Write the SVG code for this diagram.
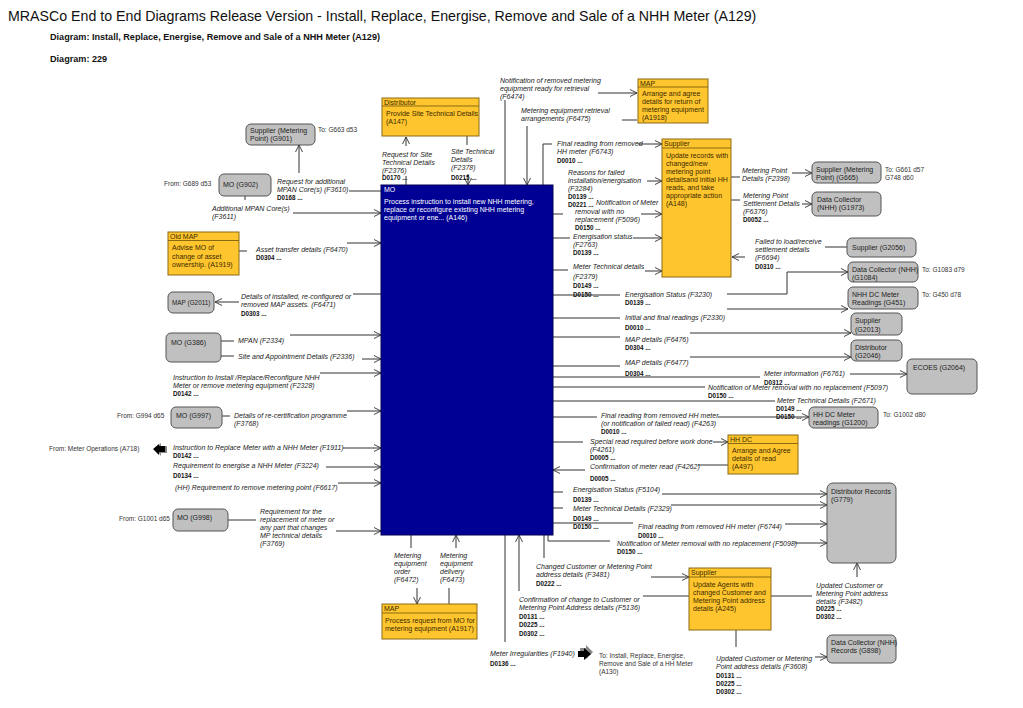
<svg xmlns="http://www.w3.org/2000/svg" width="1023" height="708" viewBox="0 0 1023 708">
<style>
text{font-family:"Liberation Sans",Arial,sans-serif;}
.title{font-size:14.2px;fill:#111;}
.sub{font-size:9.1px;font-weight:bold;fill:#111;}
.lbl{font-size:7px;font-style:italic;fill:#222;}
.code{font-size:6.3px;font-weight:bold;fill:#111;}
.note{font-size:6.5px;fill:#333;}
.nt{font-size:7px;fill:#222;}
.act rect{fill:#FFC52E;stroke:#8a6a10;stroke-width:1;}
.act line{stroke:#8a6a10;stroke-width:1;}
.act text{font-size:7px;fill:#3a2a00;}
.ext rect{fill:#C0C0C0;stroke:#555;stroke-width:1;}
.mo rect{fill:#000094;stroke:#000050;}
.mo text{font-size:7px;fill:#fff;}
#connectors path{fill:none;stroke:#333;stroke-width:1;}
</style>
<defs>
<marker id="arr" viewBox="0 0 10 10" refX="10" refY="5" markerWidth="7" markerHeight="8" markerUnits="userSpaceOnUse" orient="auto">
<path d="M0,0 L10,5 L0,10" fill="none" stroke="#333" stroke-width="1.3"/>
</marker>
</defs>
<rect width="1023" height="708" fill="#fff"/>
<text class="title" x="8" y="21">MRASCo End to End Diagrams Release Version - Install, Replace, Energise, Remove and Sale of a NHH Meter (A129)</text>
<text class="sub" x="50" y="40">Diagram: Install, Replace, Energise, Remove and Sale of a NHH Meter (A129)</text>
<text class="sub" x="50" y="62">Diagram: 229</text>

<g id="connectors">
<path d="M381,191 H349"/>
<path d="M299,173 V145" marker-end="url(#arr)"/>
<path d="M245,196 V200"/>
<path d="M293,213 H381" marker-end="url(#arr)"/>
<path d="M239,251 H247"/>
<path d="M347,243 H381" marker-end="url(#arr)"/>
<path d="M381,294 H353"/>
<path d="M239,302 H215" marker-end="url(#arr)"/>
<path d="M221,341 H234"/>
<path d="M290,335 H381" marker-end="url(#arr)"/>
<path d="M221,356 H234"/>
<path d="M362,359 H381" marker-end="url(#arr)"/>
<path d="M320,373 H381" marker-end="url(#arr)"/>
<path d="M222,416 H230"/>
<path d="M347,411 H381" marker-end="url(#arr)"/>
<path d="M343,448 H381" marker-end="url(#arr)"/>
<path d="M326,467 H381" marker-end="url(#arr)"/>
<path d="M338,483 H381" marker-end="url(#arr)"/>
<path d="M228,520 H256"/>
<path d="M336,531 H381" marker-end="url(#arr)"/>
<path d="M406,185 V176"/>
<path d="M406,146 V137" marker-end="url(#arr)"/>
<path d="M467,136 V145"/>
<path d="M468,174 V185" marker-end="url(#arr)"/>
<path d="M505,185 V100"/>
<path d="M598,93 H637" marker-end="url(#arr)"/>
<path d="M637,120 H622"/>
<path d="M527,126 V185" marker-end="url(#arr)"/>
<path d="M543,185 V144 H552"/>
<path d="M638,144 H662" marker-end="url(#arr)"/>
<path d="M647,181 H662" marker-end="url(#arr)"/>
<path d="M553,214 H563"/>
<path d="M641,214 H662" marker-end="url(#arr)"/>
<path d="M553,238 H570"/>
<path d="M633,238 H662" marker-end="url(#arr)"/>
<path d="M553,270 H568"/>
<path d="M645,271 H662" marker-end="url(#arr)"/>
<path d="M731,177 H740"/>
<path d="M792,173 H812" marker-end="url(#arr)"/>
<path d="M731,200 H740"/>
<path d="M802,204 H812" marker-end="url(#arr)"/>
<path d="M847,247 H825"/>
<path d="M745,257 H732" marker-end="url(#arr)"/>
<path d="M553,295 H620"/>
<path d="M727,294 H787 V272 H848" marker-end="url(#arr)"/>
<path d="M553,318 H620"/>
<path d="M727,309 H848" marker-end="url(#arr)"/>
<path d="M553,337 H620"/>
<path d="M690,333 H851" marker-end="url(#arr)"/>
<path d="M553,366 H620"/>
<path d="M690,357 H851" marker-end="url(#arr)"/>
<path d="M553,377 H760"/>
<path d="M850,374 H907" marker-end="url(#arr)"/>
<path d="M553,387 H705"/>
<path d="M553,401 H775"/>
<path d="M553,417 H597"/>
<path d="M718,417 H809" marker-end="url(#arr)"/>
<path d="M553,442 H583"/>
<path d="M713,442 H728" marker-end="url(#arr)"/>
<path d="M728,465 H698"/>
<path d="M585,470 H553" marker-end="url(#arr)"/>
<path d="M553,492 H563"/>
<path d="M662,494 H827" marker-end="url(#arr)"/>
<path d="M553,508 H563"/>
<path d="M671,505 H827" marker-end="url(#arr)"/>
<path d="M553,523 H633"/>
<path d="M785,524 H827" marker-end="url(#arr)"/>
<path d="M548,535 V541 H610"/>
<path d="M795,543 H827" marker-end="url(#arr)"/>
<path d="M544,535 V558"/>
<path d="M651,577 H689" marker-end="url(#arr)"/>
<path d="M689,596 H643"/>
<path d="M519,591 V535" marker-end="url(#arr)"/>
<path d="M411,535 V548"/>
<path d="M417,588 V604" marker-end="url(#arr)"/>
<path d="M449,604 V588"/>
<path d="M456,548 V535" marker-end="url(#arr)"/>
<path d="M505,535 V642"/>
<path d="M771,596 H812"/>
<path d="M857,577 V563" marker-end="url(#arr)"/>
<path d="M736,630 V647"/>
<path d="M815,657 H827" marker-end="url(#arr)"/>
</g>

<g id="labels">
<text class="lbl" x="277" y="184">Request for additional</text>
<text class="lbl" x="277" y="192">MPAN Core(s) (F3610)</text>
<text class="code" x="277" y="200">D0168 ...</text>
<text class="lbl" x="212" y="211">Additional MPAN Core(s)</text>
<text class="lbl" x="212" y="219">(F3611)</text>
<text class="lbl" x="256" y="252">Asset transfer details (F6470)</text>
<text class="code" x="256" y="260">D0304 ...</text>
<text class="lbl" x="241" y="299">Details of installed, re-configured or</text>
<text class="lbl" x="241" y="307">removed MAP assets. (F6471)</text>
<text class="code" x="241" y="316">D0303 ...</text>
<text class="lbl" x="238" y="343">MPAN (F2334)</text>
<text class="lbl" x="238" y="359">Site and Appointment Details (F2336)</text>
<text class="lbl" x="173" y="380">Instruction to Install /Replace/Reconfigure NHH</text>
<text class="lbl" x="173" y="388">Meter or remove metering equipment (F2328)</text>
<text class="code" x="173" y="396">D0142 ...</text>
<text class="lbl" x="234" y="418">Details of re-certification programme</text>
<text class="lbl" x="234" y="426">(F3768)</text>
<text class="lbl" x="173" y="450">Instruction to Replace Meter with a NHH Meter (F1911)</text>
<text class="code" x="173" y="458">D0142 ...</text>
<text class="lbl" x="173" y="468">Requirement to energise a NHH Meter (F3224)</text>
<text class="code" x="173" y="478">D0134 ...</text>
<text class="lbl" x="175" y="490">(HH) Requirement to remove metering point (F6617)</text>
<text class="lbl" x="260" y="514">Requirement for the</text>
<text class="lbl" x="260" y="522">replacement of meter or</text>
<text class="lbl" x="260" y="530">any part that changes</text>
<text class="lbl" x="260" y="538">MP technical details</text>
<text class="lbl" x="260" y="546">(F3769)</text>
<text class="lbl" x="382" y="157">Request for Site</text>
<text class="lbl" x="382" y="165">Technical Details</text>
<text class="lbl" x="382" y="173">(F2376)</text>
<text class="code" x="382" y="180">D0170 ...</text>
<text class="lbl" x="451" y="154">Site Technical</text>
<text class="lbl" x="451" y="162">Details</text>
<text class="lbl" x="451" y="170">(F2378)</text>
<text class="code" x="451" y="180">D0215 ...</text>
<text class="lbl" x="500" y="83">Notification of removed metering</text>
<text class="lbl" x="500" y="91">equipment ready for retrieval</text>
<text class="lbl" x="500" y="99">(F6474)</text>
<text class="lbl" x="521" y="113">Metering equipment retrieval</text>
<text class="lbl" x="521" y="121">arrangements (F6475)</text>
<text class="lbl" x="557" y="146">Final reading from removed</text>
<text class="lbl" x="557" y="154">HH meter (F6743)</text>
<text class="code" x="557" y="163">D0010 ...</text>
<text class="lbl" x="568" y="175">Reasons for failed</text>
<text class="lbl" x="568" y="183">installation/energisation</text>
<text class="lbl" x="568" y="191">(F3284)</text>
<text class="code" x="568" y="199">D0139 ...</text>
<text class="code" x="568" y="207">D0221 ...</text>
<text class="lbl" x="596" y="205">Notification of Meter</text>
<text class="lbl" x="575" y="214">removal with no</text>
<text class="lbl" x="575" y="222">replacement (F5096)</text>
<text class="code" x="575" y="230">D0150 ...</text>
<text class="lbl" x="573" y="239">Energisation status</text>
<text class="lbl" x="573" y="247">(F2763)</text>
<text class="code" x="573" y="255">D0139 ...</text>
<text class="lbl" x="573" y="269">Meter Technical details</text>
<text class="lbl" x="573" y="279">(F2379)</text>
<text class="code" x="573" y="288">D0149 ...</text>
<text class="code" x="573" y="297">D0150 ...</text>
<text class="lbl" x="742" y="173">Metering Point</text>
<text class="lbl" x="742" y="181">Details (F2398)</text>
<text class="lbl" x="743" y="198">Metering Point</text>
<text class="lbl" x="743" y="206">Settlement Details</text>
<text class="lbl" x="743" y="214">(F6376)</text>
<text class="code" x="743" y="222">D0052 ...</text>
<text class="lbl" x="755" y="244">Failed to load/receive</text>
<text class="lbl" x="755" y="252">settlement details</text>
<text class="lbl" x="755" y="260">(F6694)</text>
<text class="code" x="755" y="269">D0310 ...</text>
<text class="lbl" x="625" y="297">Energisation Status (F3230)</text>
<text class="code" x="625" y="305">D0139 ...</text>
<text class="lbl" x="625" y="320">Initial and final readings (F2330)</text>
<text class="code" x="625" y="330">D0010 ...</text>
<text class="lbl" x="625" y="342">MAP details (F6476)</text>
<text class="code" x="625" y="350">D0304 ...</text>
<text class="lbl" x="625" y="365">MAP details (F6477)</text>
<text class="code" x="625" y="376">D0304 ...</text>
<text class="lbl" x="764" y="376">Meter information (F6761)</text>
<text class="code" x="764" y="385">D0312 ...</text>
<text class="lbl" x="708" y="390">Notification of Meter removal with no replacement (F5097)</text>
<text class="code" x="708" y="398">D0150 ...</text>
<text class="lbl" x="777" y="403">Meter Technical Details (F2671)</text>
<text class="code" x="776" y="411">D0149 ...</text>
<text class="code" x="776" y="419">D0150 ...</text>
<text class="lbl" x="601" y="418">Final reading from removed HH meter</text>
<text class="lbl" x="601" y="426">(or notification of failed read) (F4263)</text>
<text class="code" x="601" y="434">D0010 ...</text>
<text class="lbl" x="590" y="444">Special read required before work done</text>
<text class="lbl" x="590" y="452">(F4261)</text>
<text class="code" x="590" y="460">D0005 ...</text>
<text class="lbl" x="590" y="469">Confirmation of meter read (F4262)</text>
<text class="code" x="590" y="481">D0005 ...</text>
<text class="lbl" x="573" y="492">Energisation Status (F5104)</text>
<text class="code" x="573" y="502">D0139 ...</text>
<text class="lbl" x="573" y="511">Meter Technical Details (F2329)</text>
<text class="code" x="573" y="521">D0149 ...</text>
<text class="code" x="573" y="529">D0150 ...</text>
<text class="lbl" x="638" y="529">Final reading from removed HH meter (F6744)</text>
<text class="code" x="638" y="538">D0010 ...</text>
<text class="lbl" x="617" y="546">Notification of Meter removal with no replacement (F5098)</text>
<text class="code" x="617" y="554">D0150 ...</text>
<text class="lbl" x="536" y="569">Changed Customer or Metering Point</text>
<text class="lbl" x="536" y="577">address details (F3481)</text>
<text class="code" x="536" y="586">D0222 ...</text>
<text class="lbl" x="519" y="602">Confirmation of change to Customer or</text>
<text class="lbl" x="519" y="610">Metering Point Address details (F5136)</text>
<text class="code" x="519" y="619">D0131 ...</text>
<text class="code" x="519" y="627">D0225 ...</text>
<text class="code" x="519" y="636">D0302 ...</text>
<text class="lbl" x="394" y="558">Metering</text>
<text class="lbl" x="394" y="566">equipment</text>
<text class="lbl" x="394" y="574">order</text>
<text class="lbl" x="394" y="582">(F6472)</text>
<text class="lbl" x="440" y="558">Metering</text>
<text class="lbl" x="440" y="566">equipment</text>
<text class="lbl" x="440" y="574">delivery</text>
<text class="lbl" x="440" y="582">(F6473)</text>
<text class="lbl" x="490" y="656">Meter Irregularities (F1940)</text>
<text class="code" x="490" y="666">D0136 ...</text>
<text class="note" x="599" y="658">To: Install, Replace, Energise,</text>
<text class="note" x="599" y="666">Remove and Sale of a HH Meter</text>
<text class="note" x="599" y="674">(A130)</text>
<text class="lbl" x="816" y="588">Updated Customer or</text>
<text class="lbl" x="816" y="596">Metering Point address</text>
<text class="lbl" x="816" y="604">details (F3482)</text>
<text class="code" x="816" y="611">D0225 ...</text>
<text class="code" x="816" y="619">D0302 ...</text>
<text class="lbl" x="716" y="661">Updated Customer or Metering</text>
<text class="lbl" x="716" y="669">Point address details (F3608)</text>
<text class="code" x="716" y="678">D0131 ...</text>
<text class="code" x="716" y="686">D0225 ...</text>
<text class="code" x="716" y="694">D0302 ...</text>
<text class="note" x="318" y="132">To: G663 d53</text>
<text class="note" x="164" y="186">From: G689 d53</text>
<text class="note" x="117" y="418">From: G994 d65</text>
<text class="note" x="49" y="451">From: Meter Operations (A718)</text>
<text class="note" x="119" y="521">From: G1001 d65</text>
<text class="note" x="885" y="172">To: G661 d57</text>
<text class="note" x="885" y="180">G748 d60</text>
<text class="note" x="922" y="272">To: G1083 d79</text>
<text class="note" x="922" y="297">To: G450 d78</text>
<text class="note" x="883" y="417">To: G1002 d80</text>
</g>

<g id="offpage-arrows">
<polygon points="155,448 161,443 161,446 167,446 167,453 161,453 161,456" fill="#888"/>
<polygon points="153,449 159,444 159,446 165,446 165,452 159,452 159,455" fill="#000"/>
<polygon points="580,648 586,648 586,645 593,652 586,659 586,656 580,656" fill="#888"/>
<polygon points="578,651 584,651 584,648 591,654 584,660 584,657 578,657" fill="#000"/>
</g>

<g id="A146" class="mo">
<rect x="381" y="185" width="172" height="350"/>
<text x="384" y="192">MO</text>
<text x="384" y="204">Process instruction to install new NHH metering,</text>
<text x="384" y="212">replace or reconfigure existing NHH metering</text>
<text x="384" y="220">equipment or ene... (A146)</text>
</g>

<g id="A147" class="act">
<rect x="382" y="98" width="97" height="38"/>
<line x1="382" y1="106" x2="479" y2="106"/>
<text x="384" y="104.5">Distributor</text>
<text x="386" y="116">Provide Site Technical Details</text>
<text x="386" y="124">(A147)</text>
</g>
<g id="A1918" class="act">
<rect x="638" y="79" width="70" height="44"/>
<line x1="638" y1="87" x2="708" y2="87"/>
<text x="640" y="85.5">MAP</text>
<text x="642" y="96">Arrange and agree</text>
<text x="642" y="104">details for return of</text>
<text x="642" y="112">metering equipment</text>
<text x="642" y="120">(A1918)</text>
</g>
<g id="A148" class="act">
<rect x="662" y="139" width="69" height="138"/>
<line x1="662" y1="148" x2="731" y2="148"/>
<text x="664" y="146">Supplier</text>
<text x="666" y="158">Update records with</text>
<text x="666" y="166">changed/new</text>
<text x="666" y="174">metering point</text>
<text x="666" y="182">detailsand initial HH</text>
<text x="666" y="190">reads, and take</text>
<text x="666" y="198">appropriate action</text>
<text x="666" y="206">(A148)</text>
</g>
<g id="A1919" class="act">
<rect x="168" y="232" width="71" height="43"/>
<line x1="168" y1="240.5" x2="239" y2="240.5"/>
<text x="170" y="239">Old MAP</text>
<text x="172" y="250">Advise MO of</text>
<text x="172" y="258.5">change of asset</text>
<text x="172" y="267">ownership. (A1919)</text>
</g>
<g id="A497" class="act">
<rect x="728" y="435" width="70" height="39"/>
<line x1="728" y1="443.5" x2="798" y2="443.5"/>
<text x="730" y="442">HH DC</text>
<text x="732" y="453">Arrange and Agree</text>
<text x="732" y="461">details of read</text>
<text x="732" y="469">(A497)</text>
</g>
<g id="A245" class="act">
<rect x="689" y="568" width="82" height="62"/>
<line x1="689" y1="577" x2="771" y2="577"/>
<text x="691" y="575">Supplier</text>
<text x="693" y="587">Update Agents with</text>
<text x="693" y="595">changed Customer and</text>
<text x="693" y="603">Metering Point address</text>
<text x="693" y="611">details (A245)</text>
</g>
<g id="A1917" class="act">
<rect x="382" y="604" width="95" height="35"/>
<line x1="382" y1="613" x2="477" y2="613"/>
<text x="384" y="611">MAP</text>
<text x="385" y="623">Process request from MO for</text>
<text x="385" y="631">metering equipment (A1917)</text>
</g>

<g id="G901" class="ext"><rect x="246" y="124" width="69" height="21" rx="5"/><text class="nt" x="250" y="133">Supplier (Metering</text><text class="nt" x="250" y="141">Point) (G901)</text></g>
<g id="G902" class="ext"><rect x="219" y="174" width="52" height="22" rx="5"/><text class="nt" x="223" y="187">MO (G902)</text></g>
<g id="G2011" class="ext"><rect x="168" y="292" width="46" height="21" rx="5"/><text class="nt" x="172" y="305" style="font-size:6.4px">MAP (G2011)</text></g>
<g id="G386" class="ext"><rect x="166" y="333" width="55" height="29" rx="5"/><text class="nt" x="171" y="345">MO (G386)</text></g>
<g id="G997" class="ext"><rect x="171" y="407" width="51" height="21" rx="5"/><text class="nt" x="176" y="418">MO (G997)</text></g>
<g id="G998" class="ext"><rect x="173" y="509" width="55" height="22" rx="5"/><text class="nt" x="177" y="520">MO (G998)</text></g>
<g id="G665" class="ext"><rect x="812" y="162" width="69" height="21" rx="5"/><text class="nt" x="816" y="172">Supplier (Metering</text><text class="nt" x="816" y="180">Point) (G665)</text></g>
<g id="G1973" class="ext"><rect x="812" y="192" width="69" height="24" rx="5"/><text class="nt" x="817" y="202">Data Collector</text><text class="nt" x="817" y="210">(NHH) (G1973)</text></g>
<g id="G2056" class="ext"><rect x="847" y="238" width="69" height="19" rx="5"/><text class="nt" x="852" y="250">Supplier (G2056)</text></g>
<g id="G1084" class="ext"><rect x="848" y="262" width="70" height="20" rx="5"/><text class="nt" x="852" y="272">Data Collector (NHH)</text><text class="nt" x="852" y="280">(G1084)</text></g>
<g id="G451" class="ext"><rect x="848" y="287" width="70" height="22" rx="5"/><text class="nt" x="852" y="297">NHH DC Meter</text><text class="nt" x="852" y="305">Readings (G451)</text></g>
<g id="G2013" class="ext"><rect x="851" y="313" width="51" height="22" rx="5"/><text class="nt" x="855" y="323">Supplier</text><text class="nt" x="855" y="332">(G2013)</text></g>
<g id="G2046" class="ext"><rect x="851" y="340" width="51" height="21" rx="5"/><text class="nt" x="855" y="350">Distributor</text><text class="nt" x="855" y="358">(G2046)</text></g>
<g id="G2064" class="ext"><rect x="907" y="359" width="70" height="35" rx="5"/><text class="nt" x="913" y="370">ECOES (G2064)</text></g>
<g id="G1200" class="ext"><rect x="809" y="407" width="69" height="21" rx="5"/><text class="nt" x="813" y="417">HH DC Meter</text><text class="nt" x="813" y="425">readings (G1200)</text></g>
<g id="G779" class="ext"><rect x="827" y="483" width="69" height="80" rx="6"/><text class="nt" x="831" y="494">Distributor Records</text><text class="nt" x="831" y="502">(G779)</text></g>
<g id="G898" class="ext"><rect x="827" y="635" width="69" height="28" rx="5"/><text class="nt" x="831" y="645">Data Collector (NHH)</text><text class="nt" x="831" y="653">Records (G898)</text></g>
</svg>
